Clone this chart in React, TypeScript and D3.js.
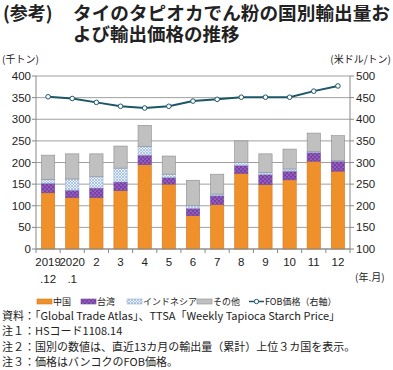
import React from "react";
import * as d3 from "d3";

const categories = ["2019\n.12", "2020\n.1", "2", "3", "4", "5", "6", "7", "8", "9", "10", "11", "12"];
const china = [130, 119, 119, 135, 195, 150, 77, 103, 175, 149, 160, 203, 180];
const taiwan = [22, 17, 22, 20, 22, 15, 17, 20, 18, 23, 20, 20, 23];
const indonesia = [9, 26, 26, 32, 20, 8, 6, 4, 7, 5, 5, 2, 1];
const others = [56, 58, 53, 51, 49, 42, 59, 46, 50, 43, 46, 43, 58];
const fob = [452, 448, 439, 430, 426, 430, 442, 446, 451, 451, 451, 465, 477];
const leftTicks = [0, 50, 100, 150, 200, 250, 300, 350, 400];
const rightTicks = [100, 150, 200, 250, 300, 350, 400, 450, 500];
const seriesNames = ["中国", "台湾", "インドネシア", "その他"];
const notes = [
  "資料：「Global Trade Atlas」、TTSA「Weekly Tapioca Starch Price」",
  "注１：HSコード1108.14",
  "注２：国別の数値は、直近13カ月の輸出量（累計）上位３カ国を表示。",
  "注３：価格はバンコクのFOB価格。",
];

const FONT = "'Liberation Sans', Arial, 'Noto Sans CJK JP', sans-serif";
const JFONT = "'Noto Sans CJK JP', 'Liberation Sans', sans-serif";

export default function App() {
  const W = 393, H = 370;
  const left = 36, right = 350, top = 76, bottom = 249;
  const x = d3.scaleBand<string>().domain(categories).range([left, right]).paddingInner(0.45).paddingOuter(0.225);
  const yL = d3.scaleLinear().domain([0, 400]).range([bottom, top]);
  const yR = d3.scaleLinear().domain([100, 500]).range([bottom, top]);
  const stackData = categories.map((c, i) => ({ c, v0: china[i], v1: taiwan[i], v2: indonesia[i], v3: others[i] }));
  const stack = d3.stack<any>().keys(["v0", "v1", "v2", "v3"])(stackData);
  const fills = ["#F0902A", "url(#pTaiwan)", "url(#pIndo)", "#C0C0C0"];
  const strokes = ["#D07A20", "#6A4A9A", "#9AB0D0", "#8C8C8C"];
  const line = d3.line<number>().x((_, i) => (x(categories[i]) as number) + x.bandwidth() / 2).y((d) => yR(d));
  const step = x.step();

  const legendItems = [
    { x: 37, tx: 53, label: seriesNames[0], fill: fills[0], stroke: strokes[0] },
    { x: 81, tx: 97, label: seriesNames[1], fill: fills[1], stroke: strokes[1] },
    { x: 127, tx: 143, label: seriesNames[2], fill: fills[2], stroke: strokes[2] },
    { x: 197, tx: 213, label: seriesNames[3], fill: fills[3], stroke: strokes[3] },
  ];

  return (
    <svg width={W} height={H} style={{ position: "absolute", left: 0, top: 0, background: "#fff" }}>
      <defs>
        <pattern id="pTaiwan" width="4" height="4" patternUnits="userSpaceOnUse">
          <rect width="4" height="4" fill="#7B3FA8" />
          <circle cx="1" cy="1" r="0.6" fill="#D8C8F0" />
          <circle cx="3" cy="3" r="0.6" fill="#D8C8F0" />
        </pattern>
        <pattern id="pIndo" width="3" height="3" patternUnits="userSpaceOnUse">
          <rect width="3" height="3" fill="#EEF3FA" />
          <path d="M0,0 L3,3 M3,0 L0,3" stroke="#8FB0DC" strokeWidth="0.7" />
        </pattern>
      </defs>
      {/* Title */}
      <text x={3} y={20} fontFamily={JFONT} fontWeight="bold" fontSize={18} fill="#222">(参考)</text>
      <text x={73} y={20} fontFamily={JFONT} fontWeight="bold" fontSize={18.5} fill="#222" textLength={317} lengthAdjust="spacingAndGlyphs">タイのタピオカでん粉の国別輸出量お</text>
      <text x={73} y={41} fontFamily={JFONT} fontWeight="bold" fontSize={18.5} fill="#222">よび輸出価格の推移</text>
      {/* unit labels */}
      <text x={2} y={63} fontFamily={JFONT} fontSize={10} fill="#222">(千トン)</text>
      <text x={391} y={63} fontFamily={JFONT} fontSize={10} fill="#222" textAnchor="end">(米ドル/トン)</text>
      {/* gridlines */}
      {leftTicks.map((t) => (
        <line key={t} x1={left} x2={right} y1={yL(t)} y2={yL(t)} stroke="#A0A0A0" strokeWidth={1} />
      ))}
      {/* bars */}
      {stack.map((s, si) =>
        s.map((d, i) => (
          <rect key={si + "-" + i} x={x(categories[i])} width={x.bandwidth()} y={yL(d[1])} height={yL(d[0]) - yL(d[1])}
            fill={fills[si]} stroke={strokes[si]} strokeWidth={0.6} />
        ))
      )}
      {/* axes */}
      <line x1={left} x2={left} y1={top} y2={bottom} stroke="#888" />
      <line x1={right} x2={right} y1={top} y2={bottom} stroke="#888" />
      <line x1={left} x2={right} y1={bottom} y2={bottom} stroke="#888" />
      {leftTicks.map((t) => (
        <g key={"l" + t}>
          <line x1={left - 4} x2={left} y1={yL(t)} y2={yL(t)} stroke="#888" />
          <text x={31} y={yL(t) + 4} textAnchor="end" fontFamily={FONT} fontSize={11.5} fill="#222">{t}</text>
        </g>
      ))}
      {rightTicks.map((t) => (
        <g key={"r" + t}>
          <line x1={right} x2={right + 4} y1={yR(t)} y2={yR(t)} stroke="#888" />
          <text x={356} y={yR(t) + 4} textAnchor="start" fontFamily={FONT} fontSize={11.5} fill="#222">{t}</text>
        </g>
      ))}
      {categories.map((c, i) => (
        <line key={"xt" + i} x1={(x(c) as number) - (step - x.bandwidth()) / 2} x2={(x(c) as number) - (step - x.bandwidth()) / 2}
          y1={bottom} y2={bottom + 4} stroke="#888" />
      ))}
      <line x1={right} x2={right} y1={bottom} y2={bottom + 4} stroke="#888" />
      {categories.map((c) => {
        const parts = c.split("\n");
        const cx = (x(c) as number) + x.bandwidth() / 2;
        return (
          <text key={"xl" + c} x={cx} textAnchor="middle" fontFamily={FONT} fontSize={11.5} fill="#222">
            {parts.map((p, j) => (
              <tspan key={j} x={cx} y={266 + j * 17}>{p}</tspan>
            ))}
          </text>
        );
      })}
      <text x={355} y={281} fontFamily={JFONT} fontSize={10} fill="#222">(年.月)</text>
      {/* line */}
      <path d={line(fob) || ""} fill="none" stroke="#1B5767" strokeWidth={2} />
      {fob.map((v, i) => (
        <circle key={"p" + i} cx={(x(categories[i]) as number) + x.bandwidth() / 2} cy={yR(v)} r={2.3} fill="#fff" stroke="#1B5767" strokeWidth={1} />
      ))}
      {/* legend */}
      {legendItems.map((it) => (
        <g key={it.label}>
          <rect x={it.x} y={299} width={15} height={5} fill={it.fill} stroke={it.stroke} strokeWidth={0.6} />
          <text x={it.tx} y={305} fontFamily={JFONT} fontSize={9} fill="#222">{it.label}</text>
        </g>
      ))}
      <line x1={249} x2={264} y1={301.5} y2={301.5} stroke="#1B5767" strokeWidth={1.5} />
      <circle cx={256.5} cy={301.5} r={2.2} fill="#fff" stroke="#1B5767" strokeWidth={1} />
      <text x={265} y={305} fontFamily={JFONT} fontSize={9} fill="#222">FOB価格（右軸）</text>
      {/* notes */}
      {notes.map((n, i) => (
        <text key={"n" + i} x={2} y={320 + i * 15.3} fontFamily={JFONT} fontSize={11} fill="#222">{n}</text>
      ))}
    </svg>
  );
}
